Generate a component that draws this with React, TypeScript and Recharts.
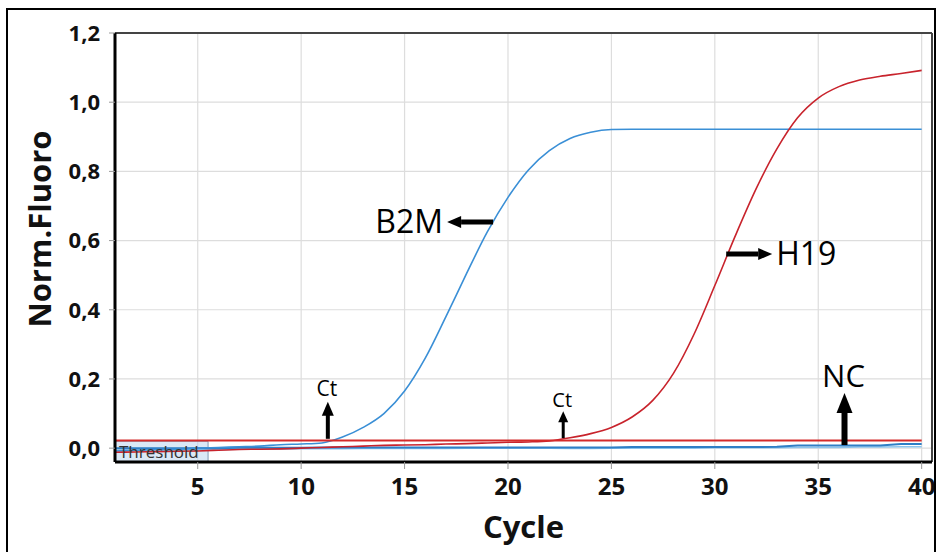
import { LineChart, Line, XAxis, YAxis, CartesianGrid, ReferenceLine, ReferenceArea, ReferenceDot, Label } from 'recharts';

const cycles = [1, 2, 3, 4, 5, 6, 7, 8, 9, 10, 11, 12, 13, 14, 15, 16, 17, 18, 19, 20, 21, 22, 23, 24, 25, 26, 27, 28, 29, 30, 31, 32, 33, 34, 35, 36, 37, 38, 39, 40];

const b2m = [-0.008, -0.006, -0.004, -0.003, 0.0, 0.002, 0.004, 0.006, 0.01, 0.012, 0.015, 0.032, 0.06, 0.1, 0.165, 0.26, 0.38, 0.505, 0.625, 0.725, 0.805, 0.86, 0.895, 0.913, 0.921, 0.922, 0.922, 0.922, 0.922, 0.922, 0.922, 0.922, 0.922, 0.922, 0.922, 0.922, 0.922, 0.922, 0.922, 0.922];

const h19 = [-0.012, -0.011, -0.01, -0.009, -0.008, -0.006, -0.004, -0.003, -0.002, 0.0, 0.002, 0.004, 0.006, 0.008, 0.009, 0.01, 0.012, 0.013, 0.015, 0.017, 0.018, 0.021, 0.03, 0.042, 0.06, 0.09, 0.138, 0.216, 0.33, 0.47, 0.615, 0.75, 0.865, 0.955, 1.012, 1.045, 1.064, 1.075, 1.083, 1.092];

const nc = [0.0, 0.0, 0.0, 0.0, 0.0, 0.0, 0.001, 0.001, 0.001, 0.001, 0.002, 0.002, 0.002, 0.002, 0.002, 0.002, 0.002, 0.002, 0.002, 0.002, 0.002, 0.002, 0.002, 0.002, 0.002, 0.003, 0.003, 0.003, 0.003, 0.003, 0.003, 0.003, 0.004, 0.008, 0.008, 0.008, 0.008, 0.008, 0.012, 0.012];

const ncLow = [-0.006, -0.006, -0.005, -0.005, -0.004, -0.004, -0.003, -0.003, -0.003, -0.002, -0.002, -0.002, -0.001, -0.001, -0.001, -0.001, -0.001, 0.0, 0.0, 0.0, 0.0, 0.0, -0.001, -0.001, 0.0, 0.0, 0.0, 0.0, 0.0, 0.001, 0.001, 0.001, 0.001, 0.002, 0.002, 0.002, 0.003, 0.003, 0.004, 0.004];

const threshold = 0.022;
const xTicks = [5, 10, 15, 20, 25, 30, 35, 40];
const yTicks = [0, 0.2, 0.4, 0.6, 0.8, 1.0, 1.2];

const data = cycles.map((c, i) => ({ cycle: c, b2m: b2m[i], h19: h19[i], nc: nc[i], ncLow: ncLow[i] }));

// arrows pointing from/at curves, anchored in data coordinates
const sideNotes = [
  { text: 'B2M', x: 19.28, y: 0.654, dir: -1 },
  { text: 'H19', x: 30.55, y: 0.561, dir: 1 },
];
const upNotes = [
  { text: 'Ct', x: 11.29, y: 0.027, len: 37, size: 21, w: 4, gap: 6 },
  { text: 'Ct', x: 22.67, y: 0.029, len: 27, size: 20, w: 3, gap: 4 },
  { text: 'NC', x: 36.27, y: 0.009, len: 52, size: 31, w: 6, gap: 6 },
];

const FONT = "'Open Sans', 'Noto Sans', sans-serif";

function SideArrow({ cx, cy, text, dir }: any) {
  const len = 46;
  const head = 14;
  const tip = cx + dir * len;
  const base = tip - dir * head;
  return (
    <g>
      <line x1={cx} y1={cy} x2={base} y2={cy} stroke="#000" strokeWidth={5} />
      <polygon points={`${tip},${cy} ${base},${cy - 6} ${base},${cy + 6}`} fill="#000" />
      <text x={tip + dir * 4} y={cy + 11} textAnchor={dir < 0 ? 'end' : 'start'} fontSize={32} fontFamily={FONT} fill="#000">
        {text}
      </text>
    </g>
  );
}

function UpArrow({ cx, cy, text, len, size, w, gap }: any) {
  const tip = cy - len;
  const head = w * 3 + 2;
  return (
    <g>
      <line x1={cx} y1={cy} x2={cx} y2={tip + head - 1} stroke="#000" strokeWidth={w} />
      <polygon points={`${cx},${tip} ${cx - w - 2},${tip + head} ${cx + w + 2},${tip + head}`} fill="#000" />
      <text x={cx - 1} y={tip - gap} textAnchor="middle" fontSize={size} fontFamily={FONT} fill="#000">
        {text}
      </text>
    </g>
  );
}

const fmt = (v: number) => v.toFixed(1).replace('.', ',');

export default function App() {
  return (
    <div style={{ position: 'absolute', left: 0, top: 0, width: 939, height: 552, background: '#fff' }}>
      <LineChart width={939} height={552} data={data} margin={{ top: 33, right: 7, left: 0, bottom: 0 }}>
        <CartesianGrid stroke="#dddddd" strokeWidth={1.2} />
        <ReferenceArea x1={1} x2={5.5} y1={-0.04} y2={0.02} fill="#bcd6ee" fillOpacity={0.55} stroke="#7f98b4" strokeWidth={1}
          label={{ value: 'Threshold', position: 'insideBottomLeft', offset: 4, fontSize: 17, fill: '#333', fontFamily: FONT }} />
        <XAxis dataKey="cycle" type="number" domain={[1, 40.5]} ticks={xTicks} allowDataOverflow height={90}
          axisLine={{ stroke: '#000', strokeWidth: 3 }} tickLine={{ stroke: '#999' }} tickSize={7} tickMargin={9}
          tick={{ fontSize: 24, fontWeight: 700, fill: '#111', fontFamily: FONT }}>
          <Label content={(p: any) => {
            const vb = p.viewBox || { x: 115, y: 462, width: 817 };
            return (
              <text x={vb.x + vb.width / 2} y={vb.y + 76} textAnchor="middle" fontSize={31} fontWeight={700} fontFamily={FONT} fill="#111">Cycle</text>
            );
          }} />
        </XAxis>
        <YAxis type="number" domain={[-0.04, 1.2]} ticks={yTicks} allowDataOverflow width={115} tickFormatter={fmt}
          axisLine={{ stroke: '#000', strokeWidth: 3 }} tickLine={{ stroke: '#999' }} tickSize={6} tickMargin={9}
          tick={{ fontSize: 22, fontWeight: 700, fill: '#111', fontFamily: FONT }}>
          <Label content={() => (
            <text x={51} y={229} transform="rotate(-90 51 229)" textAnchor="middle" fontSize={31} fontWeight={700} fontFamily={FONT} fill="#111">Norm.Fluoro</text>
          )} />
        </YAxis>
        <ReferenceLine y={1.2} stroke="#444" strokeWidth={2} />
        <ReferenceLine x={40.5} stroke="#444" strokeWidth={2} />
        <Line type="linear" dataKey="ncLow" stroke="#8cc4ec" strokeWidth={1.5} dot={false} isAnimationActive={false} />
        <Line type="linear" dataKey="nc" stroke="#2f7fc6" strokeWidth={2} dot={false} isAnimationActive={false} />
        <Line type="monotone" dataKey="b2m" stroke="#3a8fd6" strokeWidth={1.6} dot={false} isAnimationActive={false} />
        <Line type="monotone" dataKey="h19" stroke="#c8232c" strokeWidth={1.6} dot={false} isAnimationActive={false} />
        <ReferenceLine segment={[{ x: 1, y: threshold }, { x: 40, y: threshold }]} stroke="#d42a2a" strokeWidth={2} />
        {sideNotes.map((n) => (
          <ReferenceDot key={n.text} x={n.x} y={n.y} r={0}
            shape={(p: any) => <SideArrow cx={p.cx} cy={p.cy} text={n.text} dir={n.dir} />} />
        ))}
        {upNotes.map((n, i) => (
          <ReferenceDot key={'u' + i} x={n.x} y={n.y} r={0}
            shape={(p: any) => <UpArrow cx={p.cx} cy={p.cy} text={n.text} len={n.len} size={n.size} w={n.w} gap={n.gap} />} />
        ))}
      </LineChart>
      <div style={{ position: 'absolute', left: 6, top: 8, width: 930, height: 560, border: '2px solid #000', boxSizing: 'border-box', pointerEvents: 'none' }} />
    </div>
  );
}
